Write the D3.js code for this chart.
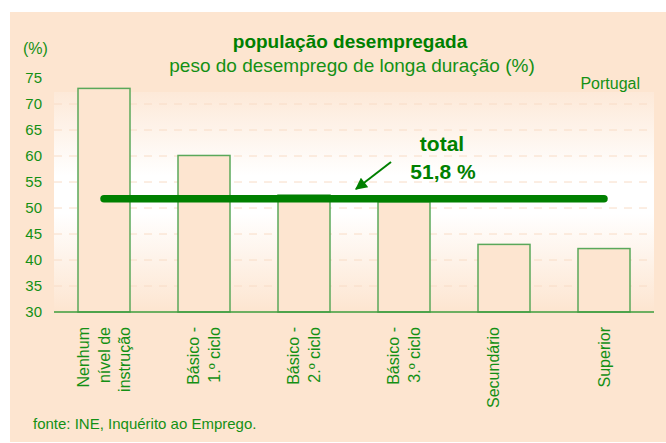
<!DOCTYPE html>
<html>
<head>
<meta charset="utf-8">
<script src="https://cdn.jsdelivr.net/npm/d3@7"></script>
<style>
  body { margin: 0; background: #fff; }
  svg { display: block; font-family: "Liberation Sans", Arial, sans-serif; }
</style>
</head>
<body>
<svg width="666" height="443"></svg>
<script>
let categories = [
    ["Nenhum", "nível de", "instrução"],
    ["Básico -", "1.º ciclo"],
    ["Básico -", "2.º ciclo"],
    ["Básico -", "3.º ciclo"],
    ["Secundário", ""],
    ["Superior"]
];
let values = [73.0, 60.1, 52.5, 51.2, 43.0, 42.2];
let total = 51.8;
let yTicks = [30, 35, 40, 45, 50, 55, 60, 65, 70, 75];
let gridTicks = [35, 40, 45, 50, 55, 60, 65, 70];

let green = "#149014",
    dark = "#008000",
    peach = "#fde5d0";

let svg = d3.select("svg");

let x = d3.scaleBand()
    .domain(d3.range(values.length))
    .range([54, 654])
    .paddingInner(0.48)
    .paddingOuter(0.24);

let y = d3.scaleLinear()
    .domain([30, 75])
    .range([312, 78]);

// background
let defs = svg.append("defs");
let grad = defs.append("linearGradient")
    .attr("id", "bg")
    .attr("x1", 0).attr("x2", 0).attr("y1", 0).attr("y2", 1);
grad.append("stop").attr("offset", "0%").attr("stop-color", "#fde9d8");
grad.append("stop").attr("offset", "38%").attr("stop-color", "#ffffff");
grad.append("stop").attr("offset", "55%").attr("stop-color", "#ffffff");
grad.append("stop").attr("offset", "100%").attr("stop-color", peach);

svg.append("rect")
    .attr("x", 10).attr("y", 12)
    .attr("width", 656).attr("height", 430)
    .attr("fill", peach);

svg.append("rect")
    .attr("x", 54).attr("y", 92)
    .attr("width", 600).attr("height", y(30) - 92)
    .attr("fill", "url(#bg)");

// grid
svg.append("g")
    .selectAll("line")
    .data(gridTicks)
    .enter().append("line")
    .attr("x1", 54).attr("x2", 654)
    .attr("y1", d => y(d)).attr("y2", d => y(d))
    .attr("stroke", "#f8dcc6")
    .attr("stroke-width", 1)
    .attr("stroke-dasharray", "8,7");

// y axis labels
let yAxis = d3.axisLeft(y)
    .tickValues(yTicks)
    .tickSize(0)
    .tickPadding(0);
let gy = svg.append("g")
    .attr("transform", "translate(42,0)")
    .call(yAxis);
gy.select(".domain").remove();
gy.selectAll("text")
    .attr("fill", green)
    .style("font-size", "15px")
    .style("font-family", "'Liberation Sans', Arial, sans-serif");

// bars
svg.append("g")
    .selectAll("rect")
    .data(values)
    .enter().append("rect")
    .attr("x", (d, i) => x(i))
    .attr("y", d => y(d))
    .attr("width", x.bandwidth())
    .attr("height", d => y(30) - y(d))
    .attr("fill", peach)
    .attr("stroke", "#5aa85a")
    .attr("stroke-width", 1.5);

// x axis line
svg.append("line")
    .attr("x1", 54).attr("x2", 654)
    .attr("y1", y(30)).attr("y2", y(30))
    .attr("stroke", "#3c9c3c")
    .attr("stroke-width", 1.5);

// category labels
let labels = svg.append("g")
    .selectAll("text")
    .data(categories)
    .enter().append("text")
    .attr("transform", (d, i) => "translate(" + [x(i) + x.bandwidth() / 2, 327] + ") rotate(-90)")
    .attr("text-anchor", "end")
    .attr("fill", green)
    .style("font-size", "16px");
labels.each(function (d) {
    let t = d3.select(this);
    let lh = 20.5;
    d.forEach((s, k) => {
        t.append("tspan")
            .attr("x", 0)
            .attr("y", (k - (d.length - 1) / 2) * lh + 5.5)
            .text(s);
    });
});

// total line
svg.append("line")
    .attr("x1", x(0) + x.bandwidth() / 2)
    .attr("x2", x(values.length - 1) + x.bandwidth() / 2)
    .attr("y1", y(total)).attr("y2", y(total))
    .attr("stroke", dark)
    .attr("stroke-width", 7.5)
    .attr("stroke-linecap", "round");

// arrow
defs.append("marker")
    .attr("id", "arrow")
    .attr("viewBox", "0 0 10 10")
    .attr("refX", 9).attr("refY", 5)
    .attr("markerWidth", 7).attr("markerHeight", 6)
    .attr("markerUnits", "strokeWidth")
    .attr("orient", "auto")
    .append("path")
    .attr("d", "M0,0 L10,5 L0,10 z")
    .attr("fill", dark);

svg.append("line")
    .attr("x1", 391).attr("y1", 162)
    .attr("x2", 356).attr("y2", 189)
    .attr("stroke", dark)
    .attr("stroke-width", 2)
    .attr("marker-end", "url(#arrow)");

svg.append("text")
    .attr("x", 442).attr("y", 151)
    .attr("text-anchor", "middle")
    .attr("fill", dark)
    .style("font-size", "21px")
    .style("font-weight", "bold")
    .text("total");

svg.append("text")
    .attr("x", 443).attr("y", 179)
    .attr("text-anchor", "middle")
    .attr("fill", dark)
    .style("font-size", "21px")
    .style("font-weight", "bold")
    .text("51,8 %");

// titles
svg.append("text")
    .attr("x", 350).attr("y", 48)
    .attr("text-anchor", "middle")
    .attr("fill", dark)
    .style("font-size", "19px")
    .style("font-weight", "bold")
    .text("população desempregada");

svg.append("text")
    .attr("x", 352).attr("y", 72)
    .attr("text-anchor", "middle")
    .attr("fill", green)
    .style("font-size", "19px")
    .text("peso do desemprego de longa duração (%)");

svg.append("text")
    .attr("x", 23).attr("y", 54)
    .attr("fill", green)
    .style("font-size", "16px")
    .text("(%)");

svg.append("text")
    .attr("x", 640).attr("y", 89)
    .attr("text-anchor", "end")
    .attr("fill", green)
    .style("font-size", "16px")
    .text("Portugal");

svg.append("text")
    .attr("x", 33).attr("y", 429)
    .attr("fill", green)
    .style("font-size", "15px")
    .text("fonte: INE, Inquérito ao Emprego.");
</script>
</body>
</html>
